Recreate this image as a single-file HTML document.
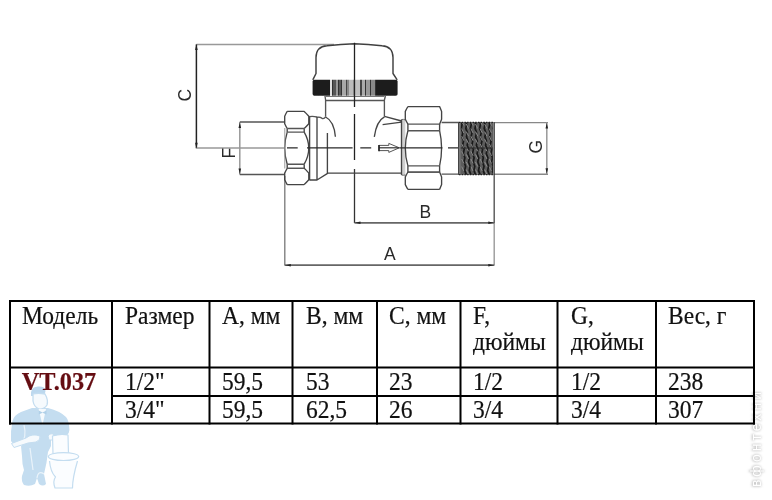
<!DOCTYPE html>
<html><head><meta charset="utf-8">
<style>
html,body{margin:0;padding:0;background:#fff;}
body{width:772px;height:500px;overflow:hidden;position:relative;}
svg{position:absolute;left:0;top:0;will-change:transform;}
.t{font-family:"Liberation Serif",serif;font-size:23.5px;fill:#111;stroke:#111;stroke-width:0.2px;}
</style></head><body>
<svg width="772" height="500" viewBox="0 0 772 500">
<defs>
<filter id="blr" x="-50%" y="-50%" width="200%" height="200%"><feGaussianBlur stdDeviation="1.2"/></filter>
</defs>
<!-- plumber watermark -->
<g stroke-linejoin="round">
<!-- suit torso + legs -->
<path d="M32 408 L21 412 Q14 415 12.5 421 Q10.5 430 11 441 L14 445 L21 446 L22 456 Q22 464 24 470 L22 476 Q21 481 24 485 Q30 487 35 484 L37 478 L39 484 Q43 487 46 484 L44 474 Q47 462 48 452 L51 446 L51 437 L62 437 Q69 436 69.4 430 Q69 420 66 417 Q60 411 48 408 Z" fill="#c4ddf0"/>
<!-- white separation lines -->
<path d="M21 446 Q27 436 24 425 M44 474 Q38 470 37 478 M30 448 L33 470" stroke="#eaf3fa" stroke-width="1.2" fill="none"/>
<!-- hair -->
<path d="M31 396 Q30 387 38 386.6 Q45 386 45.5 391 L44.5 395 Q38 393 33 396 Z" fill="#bcd8ee"/>
<!-- face -->
<path d="M33 394 Q38 392.5 45 394 Q48.5 400 47 405 Q44 409.5 39 409 Q34 407 33 401 Z" fill="#f6fafd" stroke="#c4ddf0" stroke-width="1.3"/>
<!-- shirt V and bow tie -->
<path d="M38.6 409 L46 409 L42.5 425 Z" fill="#f6fafd"/>
<path d="M38.8 410.5 L42.5 412.5 L46.5 410.5 L46.5 414.5 L42.5 412.8 L38.8 414.5 Z" fill="#b0d0e8"/>
<!-- wrench / hand -->
<path d="M11.5 443.5 L26 438 Q32 433 40 436 Q41 440 36 442 L28 443 L14 447.5 Z" fill="#f6fafd" stroke="#c4ddf0" stroke-width="1"/>
<path d="M48 436 Q51 432 54 435 L53 440 L49 440 Z" fill="#f6fafd" stroke="#c4ddf0" stroke-width="1"/>
<!-- toilet tank -->
<path d="M52.5 436 Q60 433.5 68 435 L68.5 454 L53 454 Z" fill="#fbfdff" stroke="#c4ddf0" stroke-width="1.2"/>
<!-- bowl rim -->
<ellipse cx="63.5" cy="456.6" rx="15.2" ry="4" fill="#fbfdff" stroke="#c4ddf0" stroke-width="1.2"/>
<!-- base -->
<path d="M49.5 461 Q50.5 472 55.5 477 Q52.5 481 55 488 L72.5 488 Q72.5 478 77.5 461" fill="#fbfdff" stroke="#c4ddf0" stroke-width="1.2"/>
</g>
<!-- right vertical watermark -->
<g transform="translate(760.5 487) rotate(-90)" font-family="Liberation Sans, sans-serif" font-size="14">
<text x="0" y="0" fill="#c4c4c4" stroke="#c4c4c4" stroke-width="1" filter="url(#blr)" textLength="95" lengthAdjust="spacing">вфонтехни</text>
<text x="0" y="0" fill="#fff" textLength="95" lengthAdjust="spacing">вфонтехни</text>
</g>


<defs>
<filter id="kb" x="-5%" y="-5%" width="110%" height="110%"><feGaussianBlur stdDeviation="0.45 0.2"/></filter>
<linearGradient id="kn" x1="312.6" x2="397.6" y1="0" y2="0" gradientUnits="userSpaceOnUse"><stop offset="0.0000" stop-color="#1e1e1e"/><stop offset="0.2094" stop-color="#1e1e1e"/><stop offset="0.2094" stop-color="#dedede"/><stop offset="0.2329" stop-color="#dedede"/><stop offset="0.2329" stop-color="#333"/><stop offset="0.2447" stop-color="#333"/><stop offset="0.2447" stop-color="#575757"/><stop offset="0.2800" stop-color="#575757"/><stop offset="0.2800" stop-color="#999"/><stop offset="0.3000" stop-color="#999"/><stop offset="0.3000" stop-color="#333"/><stop offset="0.3082" stop-color="#333"/><stop offset="0.3082" stop-color="#585858"/><stop offset="0.3400" stop-color="#585858"/><stop offset="0.3400" stop-color="#333"/><stop offset="0.3471" stop-color="#333"/><stop offset="0.3471" stop-color="#a8a8a8"/><stop offset="0.3906" stop-color="#a8a8a8"/><stop offset="0.3906" stop-color="#444"/><stop offset="0.4035" stop-color="#444"/><stop offset="0.4035" stop-color="#888"/><stop offset="0.4224" stop-color="#888"/><stop offset="0.4224" stop-color="#bbb"/><stop offset="0.4741" stop-color="#bbb"/><stop offset="0.4741" stop-color="#999"/><stop offset="0.4871" stop-color="#999"/><stop offset="0.4871" stop-color="#222"/><stop offset="0.4976" stop-color="#222"/><stop offset="0.4976" stop-color="#c0c0c0"/><stop offset="0.5588" stop-color="#c0c0c0"/><stop offset="0.5588" stop-color="#444"/><stop offset="0.5788" stop-color="#444"/><stop offset="0.5788" stop-color="#aaa"/><stop offset="0.6176" stop-color="#aaa"/><stop offset="0.6176" stop-color="#333"/><stop offset="0.6294" stop-color="#333"/><stop offset="0.6294" stop-color="#999"/><stop offset="0.6776" stop-color="#999"/><stop offset="0.6776" stop-color="#333"/><stop offset="0.6847" stop-color="#333"/><stop offset="0.6847" stop-color="#888"/><stop offset="0.7329" stop-color="#888"/><stop offset="0.7329" stop-color="#333"/><stop offset="0.7447" stop-color="#333"/><stop offset="0.7447" stop-color="#1e1e1e"/><stop offset="1.0000" stop-color="#1e1e1e"/></linearGradient>
</defs>
<g fill="none" stroke="#3c3c3c" stroke-width="1.2" stroke-linejoin="round" stroke-linecap="butt">
<!-- C dimension -->
<path d="M196.4 44.4 H334" stroke="#999" stroke-width="1.5"/>
<path d="M196.4 44.4 V148.3" stroke="#222" stroke-width="1.5"/>
<path d="M196.4 147.9 H284" stroke="#999" stroke-width="1.5"/>
<!-- F dimension -->
<path d="M239.8 122 V174.5" stroke="#999" stroke-width="1.5"/>
<path d="M239.8 122 H284.5 M239.8 174.5 H284.5" stroke="#555" stroke-width="1.3"/>
<!-- G dimension -->
<path d="M494 122.6 H548 M494 174.2 H548" stroke="#888" stroke-width="1.4"/>
<path d="M546.8 122.6 V174.2" stroke="#999" stroke-width="1.5"/>
<!-- A/B dims -->
<path d="M284.8 176 V265.5" stroke="#777" stroke-width="1.3"/>
<path d="M494.2 174 V223" stroke="#555" stroke-width="1.4"/>
<path d="M494.2 223 V265.5" stroke="#999" stroke-width="1.4"/>
<path d="M354.5 169 V223" stroke="#333" stroke-width="1.3"/>
<path d="M354.5 222.8 H494.2" stroke="#666" stroke-width="1.7"/>
<path d="M284.8 265.2 H494.2" stroke="#666" stroke-width="1.7"/>
</g>
<g fill="#222">
<path d="M196.4 44.5 l-1.3 5.5 h2.6 z M196.4 148.2 l-1.3 -5.5 h2.6 z"/>
<path d="M239.8 122.5 l-1.3 5.5 h2.6 z M239.8 174 l-1.3 -5.5 h2.6 z"/>
<path d="M546.8 123 l-1.3 5.5 h2.6 z M546.8 173.8 l-1.3 -5.5 h2.6 z"/>
<path d="M355 222.8 l5.5 -1.3 v2.6 z M493.8 222.8 l-5.5 -1.3 v2.6 z"/>
<path d="M285.3 265.2 l5.5 -1.3 v2.6 z M493.8 265.2 l-5.5 -1.3 v2.6 z"/>
</g>
<g fill="none" stroke="#3c3c3c" stroke-width="1.35" stroke-linejoin="round" stroke-linecap="butt">
<!-- cap -->
<path d="M312.8 79.8 L316 73.5 V57.5 Q316.2 46.5 327 45.8 Q341 44 354.5 43.7 Q368 44 382 45.8 Q392.8 46.5 393 57.5 V73.5 L397.2 79.8" stroke="#404040" stroke-width="1.45"/>
<rect x="312.6" y="79.8" width="85" height="16" rx="1.8" fill="url(#kn)" stroke="none" filter="url(#kb)"/>
<!-- collar/neck -->
<path d="M325 96 L325.6 100 V116.8 M385.4 96 L384.4 100 V116.3 M325.6 100.5 H384.4" stroke="#555"/>
<path d="M325.6 96.5 H384.4" stroke="#777" stroke-width="1"/>
<!-- center vertical -->
<path d="M354.5 42.8 V107 M354.5 114 V160" stroke="#222" stroke-width="1.3"/>

<!-- left nut -->
<path d="M287.2 111.4 H304.2 Q305.8 112.8 308.8 116.2 V123.7 Q305.8 127.1 304.2 128.5 M287.2 111.4 Q286.3 112.8 284.7 116.2 V123.7 Q286.3 127.1 287.2 128.5 M287.2 168.3 H304.2 Q305.8 169.7 308.8 173.1 V179.8 Q305.8 183.2 304.2 184.6 M287.2 168.3 Q286.3 169.7 284.7 173.1 V179.8 Q286.3 183.2 287.2 184.6 M287.2 184.6 H304.2" stroke="#444"/>
<path d="M287.2 132.1 Q282.2 148.1 287.2 164.2 M304.2 132.1 Q313.4 148.1 304.2 164.2" stroke="#444"/>
<path d="M287.2 128.5 V132.1 M304.2 128.5 V132.1 M287.2 164.2 V168.3 M304.2 164.2 V168.3" stroke="#444"/>
<path d="M287.2 128.5 H304.2 M287.2 132.1 H304.2 M287.2 164.2 H304.2 M287.2 168.3 H304.2" stroke="#555"/>
<path d="M284.8 128 V168.5" stroke="#999" stroke-width="1"/>
<!-- ring + body left -->
<path d="M309.6 116 V180.3" stroke="#444"/>
<path d="M309.6 116.6 Q313 116 317 117 Q321 117 322 118.3 Q324 119.3 325.6 116.8" stroke="#555"/>
<path d="M317 117 V179.8 M309.6 180 H317 L328 173.1 H401.9" stroke="#444"/>
<path d="M325.6 117 Q334 121 335.4 136.8" stroke="#444"/>
<path d="M327.4 133 V173.1" stroke="#444"/>
<!-- body right -->
<path d="M384.4 116.3 L401.6 121 M382.6 124.6 L401.6 122.2 M384.4 116.8 Q376.5 121 374.3 136.8" stroke="#444"/>
<!-- right nut -->
<rect x="401.5" y="120" width="3.8" height="55" fill="#d0d0d0" stroke="none"/>
<path d="M401.5 119.5 V175" stroke="#444"/>
<path d="M401.5 119.5 Q403.5 119 405.3 120 M401.5 175 Q403.5 175.6 405.3 175" stroke="#666" stroke-width="1"/>
<path d="M407.9 106.6 H439.6 Q440.3 108.0 441.6 111.4 V119.3 Q440.3 122.7 439.6 124.1 M407.9 106.6 Q407.0 108.0 405.3 111.4 V119.3 Q407.0 122.7 407.9 124.1 M407.9 172.1 H439.6 Q440.3 173.5 441.6 176.9 V184.6 Q440.3 188.0 439.6 189.4 M407.9 172.1 Q407.0 173.5 405.3 176.9 V184.6 Q407.0 188.0 407.9 189.4 M407.9 189.4 H439.6" stroke="#444"/>
<path d="M407.9 130.7 Q402.7 148.3 407.9 165.9 M439.6 130.7 Q443.6 148.3 439.6 165.9" stroke="#444"/>
<path d="M407.9 124.1 V130.7 M439.6 124.1 V130.7 M407.9 165.9 V172.1 M439.6 165.9 V172.1" stroke="#444"/>
<path d="M407.9 124.1 H439.6 M407.9 130.7 H439.6 M407.9 165.9 H439.6 M407.9 172.1 H439.6" stroke="#555"/>
<!-- spigot -->
<path d="M441.6 122.5 H459 M441.6 174.1 H459" stroke="#555"/>
<!-- arrow -->
<path d="M379 145.4 H388.8 V143.4 L399.3 147.8 L388.8 152.4 V150.6 H379 Z" stroke="#555" stroke-width="1"/>
<path d="M379 147.8 H399.5" stroke="#333" stroke-width="1.2"/>
<path d="M379 145 V151.2" stroke="#222" stroke-width="1.6"/>
<!-- centerline horizontal -->
<path d="M287 147.8 H297.7 M307 147.8 H352.6 M360.3 147.8 H371.2 M399.7 147.8 H442.4 M448 147.8 H458" stroke="#2a2a2a" stroke-width="1.3"/>
</g>
<clipPath id="thc"><rect x="458.8" y="122.4" width="35.4" height="52.2"/></clipPath>
<rect x="458.5" y="122.2" width="35.7" height="52.6" fill="#5c5c5c"/>
<g clip-path="url(#thc)" fill="none">
<path d="M460.5 120.0 L462.1 124.2 L461.2 128.4 L462.8 132.6 L461.9 136.8 L463.5 141.0 L462.6 145.2 L464.2 149.4 L463.3 153.6 L464.9 157.8 L464.0 162.0 L465.6 166.2 L464.7 170.4 L466.3 174.6 L465.4 178.8 M465.1 120.0 L466.7 124.2 L465.8 128.4 L467.4 132.6 L466.5 136.8 L468.1 141.0 L467.2 145.2 L468.8 149.4 L467.9 153.6 L469.5 157.8 L468.6 162.0 L470.2 166.2 L469.3 170.4 L470.9 174.6 L470.0 178.8 M469.7 120.0 L471.3 124.2 L470.4 128.4 L472.0 132.6 L471.1 136.8 L472.7 141.0 L471.8 145.2 L473.4 149.4 L472.5 153.6 L474.1 157.8 L473.2 162.0 L474.8 166.2 L473.9 170.4 L475.5 174.6 L474.6 178.8 M474.3 120.0 L475.9 124.2 L475.0 128.4 L476.6 132.6 L475.7 136.8 L477.3 141.0 L476.4 145.2 L478.0 149.4 L477.1 153.6 L478.7 157.8 L477.8 162.0 L479.4 166.2 L478.5 170.4 L480.1 174.6 L479.2 178.8 M478.9 120.0 L480.5 124.2 L479.6 128.4 L481.2 132.6 L480.3 136.8 L481.9 141.0 L481.0 145.2 L482.6 149.4 L481.7 153.6 L483.3 157.8 L482.4 162.0 L484.0 166.2 L483.1 170.4 L484.7 174.6 L483.8 178.8 M483.5 120.0 L485.1 124.2 L484.2 128.4 L485.8 132.6 L484.9 136.8 L486.5 141.0 L485.6 145.2 L487.2 149.4 L486.3 153.6 L487.9 157.8 L487.0 162.0 L488.6 166.2 L487.7 170.4 L489.3 174.6 L488.4 178.8 M488.1 120.0 L489.7 124.2 L488.8 128.4 L490.4 132.6 L489.5 136.8 L491.1 141.0 L490.2 145.2 L491.8 149.4 L490.9 153.6 L492.5 157.8 L491.6 162.0 L493.2 166.2 L492.3 170.4 L493.9 174.6 L493.0 178.8 M492.7 120.0 L494.3 124.2 L493.4 128.4 L495.0 132.6 L494.1 136.8 L495.7 141.0 L494.8 145.2 L496.4 149.4 L495.5 153.6 L497.1 157.8 L496.2 162.0 L497.8 166.2 L496.9 170.4 L498.5 174.6 L497.6 178.8 M497.3 120.0 L498.9 124.2 L498.0 128.4 L499.6 132.6 L498.7 136.8 L500.3 141.0 L499.4 145.2 L501.0 149.4 L500.1 153.6 L501.7 157.8 L500.8 162.0 L502.4 166.2 L501.5 170.4 L503.1 174.6 L502.2 178.8" stroke="#1a1a1a" stroke-width="1.7"/>
<path d="M461.7 121.0 l2.2 4.5 M461.7 128.6 l2.2 4.5 M461.7 136.2 l2.2 4.5 M461.7 143.8 l2.2 4.5 M461.7 151.4 l2.2 4.5 M461.7 159.0 l2.2 4.5 M461.7 166.6 l2.2 4.5 M466.3 124.0 l2.2 4.5 M466.3 131.6 l2.2 4.5 M466.3 139.2 l2.2 4.5 M466.3 146.8 l2.2 4.5 M466.3 154.4 l2.2 4.5 M466.3 162.0 l2.2 4.5 M466.3 169.6 l2.2 4.5 M470.9 121.0 l2.2 4.5 M470.9 128.6 l2.2 4.5 M470.9 136.2 l2.2 4.5 M470.9 143.8 l2.2 4.5 M470.9 151.4 l2.2 4.5 M470.9 159.0 l2.2 4.5 M470.9 166.6 l2.2 4.5 M475.5 124.0 l2.2 4.5 M475.5 131.6 l2.2 4.5 M475.5 139.2 l2.2 4.5 M475.5 146.8 l2.2 4.5 M475.5 154.4 l2.2 4.5 M475.5 162.0 l2.2 4.5 M475.5 169.6 l2.2 4.5 M480.1 121.0 l2.2 4.5 M480.1 128.6 l2.2 4.5 M480.1 136.2 l2.2 4.5 M480.1 143.8 l2.2 4.5 M480.1 151.4 l2.2 4.5 M480.1 159.0 l2.2 4.5 M480.1 166.6 l2.2 4.5 M484.7 124.0 l2.2 4.5 M484.7 131.6 l2.2 4.5 M484.7 139.2 l2.2 4.5 M484.7 146.8 l2.2 4.5 M484.7 154.4 l2.2 4.5 M484.7 162.0 l2.2 4.5 M484.7 169.6 l2.2 4.5 M489.3 121.0 l2.2 4.5 M489.3 128.6 l2.2 4.5 M489.3 136.2 l2.2 4.5 M489.3 143.8 l2.2 4.5 M489.3 151.4 l2.2 4.5 M489.3 159.0 l2.2 4.5 M489.3 166.6 l2.2 4.5 M493.9 124.0 l2.2 4.5 M493.9 131.6 l2.2 4.5 M493.9 139.2 l2.2 4.5 M493.9 146.8 l2.2 4.5 M493.9 154.4 l2.2 4.5 M493.9 162.0 l2.2 4.5 M493.9 169.6 l2.2 4.5 M498.5 121.0 l2.2 4.5 M498.5 128.6 l2.2 4.5 M498.5 136.2 l2.2 4.5 M498.5 143.8 l2.2 4.5 M498.5 151.4 l2.2 4.5 M498.5 159.0 l2.2 4.5 M498.5 166.6 l2.2 4.5" stroke="#8c8c8c" stroke-width="1"/>
</g>
<path d="M458.5 148 H494.2" stroke="#222" stroke-width="1.2"/>
<path d="M459.6 122.2 V174.8" stroke="#777" stroke-width="2"/>
<path d="M458.5 122.2 V174.8" stroke="#444" stroke-width="1"/>
<path d="M493.6 122.2 V174.8" stroke="#8a8a8a" stroke-width="1.3"/>
<path d="M494.4 122.2 V174.8" stroke="#333" stroke-width="0.8"/>
<path d="M459 122.4 H494 M459 174.6 H494" stroke="#222" stroke-width="1.2" stroke-dasharray="1.5 1.2"/>
<g fill="#2a2a2a" font-family="Liberation Sans, sans-serif" font-size="17.5">
<text x="389.9" y="260.2" text-anchor="middle">A</text>
<text x="425.4" y="217.6" text-anchor="middle">B</text>
<text transform="translate(191.3 95.2) rotate(-90)" text-anchor="middle">C</text>
<text transform="translate(235 153.2) rotate(-90)" text-anchor="middle">F</text>
<text transform="translate(541.6 146.8) rotate(-90)" text-anchor="middle">G</text>
</g>


<g fill="#000">
<rect x="9" y="300" width="746" height="2"/>
<rect x="9" y="366.5" width="746" height="2"/>
<rect x="111" y="395" width="644" height="2"/>
<rect x="9" y="422.5" width="746" height="2"/>
<rect x="9" y="300" width="2" height="124.5"/>
<rect x="111" y="300" width="2" height="124.5"/>
<rect x="208.5" y="300" width="2" height="124.5"/>
<rect x="291.5" y="300" width="2" height="124.5"/>
<rect x="376" y="300" width="2" height="124.5"/>
<rect x="459.5" y="300" width="2" height="124.5"/>
<rect x="556.5" y="300" width="2" height="124.5"/>
<rect x="655" y="300" width="2" height="124.5"/>
<rect x="753" y="300" width="2" height="124.5"/>
</g>
<g class="t">
<text x="22" y="323.6" transform="matrix(1 0 0 1.03 0 -9.708)">Модель</text>
<text x="125" y="323.8" transform="matrix(1 0 0 1.03 0 -9.714)">Размер</text>
<text x="222" y="323.8" transform="matrix(1 0 0 1.03 0 -9.714)">A, мм</text>
<text x="306" y="323.8" transform="matrix(1 0 0 1.03 0 -9.714)">B, мм</text>
<text x="389" y="323.8" transform="matrix(1 0 0 1.03 0 -9.714)">C, мм</text>
<text x="473" y="324" transform="matrix(1 0 0 1.03 0 -9.720)">F,</text>
<text x="473" y="349.7" transform="matrix(1 0 0 1.03 0 -10.491)">дюймы</text>
<text x="571" y="324" transform="matrix(1 0 0 1.03 0 -9.720)">G,</text>
<text x="571" y="349.7" transform="matrix(1 0 0 1.03 0 -10.491)">дюймы</text>
<text x="668" y="324" transform="matrix(1 0 0 1.03 0 -9.720)">Вес, г</text>
<text x="21.8" y="389.8" transform="matrix(1 0 0 1.03 0 -11.694)" style="font-weight:bold;fill:#650d12;stroke:#650d12;font-size:24.3px">VT.037</text>
<text x="125" y="389.9" transform="matrix(1 0 0 1.03 0 -11.697)">1/2"</text>
<text x="222" y="389.9" transform="matrix(1 0 0 1.03 0 -11.697)">59,5</text>
<text x="306" y="389.9" transform="matrix(1 0 0 1.03 0 -11.697)">53</text>
<text x="389" y="389.9" transform="matrix(1 0 0 1.03 0 -11.697)">23</text>
<text x="473" y="389.9" transform="matrix(1 0 0 1.03 0 -11.697)">1/2</text>
<text x="571" y="389.9" transform="matrix(1 0 0 1.03 0 -11.697)">1/2</text>
<text x="668" y="389.9" transform="matrix(1 0 0 1.03 0 -11.697)">238</text>
<text x="125" y="417.9" transform="matrix(1 0 0 1.03 0 -12.537)">3/4"</text>
<text x="222" y="417.9" transform="matrix(1 0 0 1.03 0 -12.537)">59,5</text>
<text x="306" y="417.9" transform="matrix(1 0 0 1.03 0 -12.537)">62,5</text>
<text x="389" y="417.9" transform="matrix(1 0 0 1.03 0 -12.537)">26</text>
<text x="473" y="417.9" transform="matrix(1 0 0 1.03 0 -12.537)">3/4</text>
<text x="571" y="417.9" transform="matrix(1 0 0 1.03 0 -12.537)">3/4</text>
<text x="668" y="417.9" transform="matrix(1 0 0 1.03 0 -12.537)">307</text>
</g>

</svg>
</body></html>
